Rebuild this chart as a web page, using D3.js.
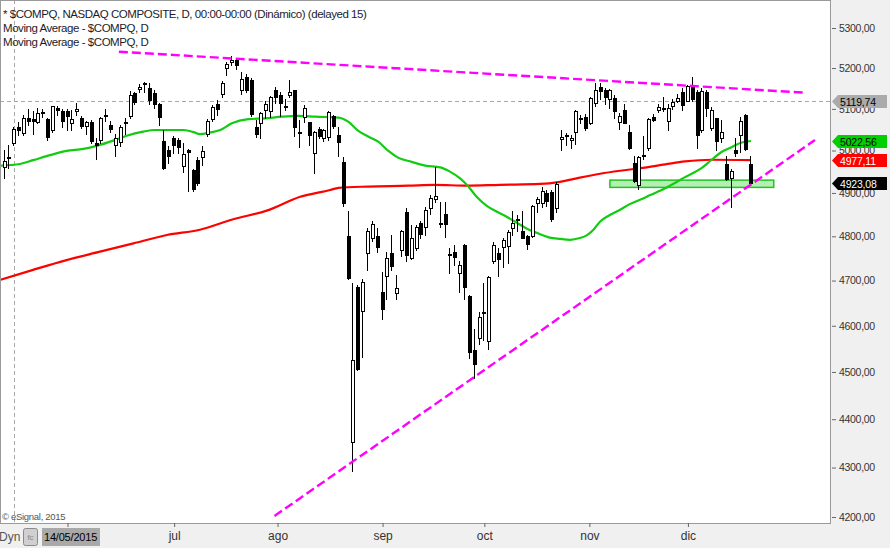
<!DOCTYPE html>
<html><head><meta charset="utf-8">
<script src="https://cdn.jsdelivr.net/npm/d3@7"></script>
<style>
html,body{margin:0;padding:0;background:#f0f0f0;overflow:hidden;}
svg{display:block;font-family:"Liberation Sans",Arial,sans-serif;}
</style></head><body>
<svg id="c" width="890" height="548"></svg>
<script>
// ---------- DATA ----------
const dates = [
"2015-05-12","2015-05-13","2015-05-14","2015-05-15","2015-05-18","2015-05-19","2015-05-20","2015-05-21","2015-05-22","2015-05-26","2015-05-27","2015-05-28","2015-05-29",
"2015-06-01","2015-06-02","2015-06-03","2015-06-04","2015-06-05","2015-06-08","2015-06-09","2015-06-10","2015-06-11","2015-06-12","2015-06-15","2015-06-16","2015-06-17","2015-06-18","2015-06-19","2015-06-22","2015-06-23","2015-06-24","2015-06-25","2015-06-26","2015-06-29","2015-06-30",
"2015-07-01","2015-07-02","2015-07-06","2015-07-07","2015-07-08","2015-07-09","2015-07-10","2015-07-13","2015-07-14","2015-07-15","2015-07-16","2015-07-17","2015-07-20","2015-07-21","2015-07-22","2015-07-23","2015-07-24","2015-07-27","2015-07-28","2015-07-29","2015-07-30","2015-07-31",
"2015-08-03","2015-08-04","2015-08-05","2015-08-06","2015-08-07","2015-08-10","2015-08-11","2015-08-12","2015-08-13","2015-08-14","2015-08-17","2015-08-18","2015-08-19","2015-08-20","2015-08-21","2015-08-24","2015-08-25","2015-08-26","2015-08-27","2015-08-28","2015-08-31",
"2015-09-01","2015-09-02","2015-09-03","2015-09-04","2015-09-08","2015-09-09","2015-09-10","2015-09-11","2015-09-14","2015-09-15","2015-09-16","2015-09-17","2015-09-18","2015-09-21","2015-09-22","2015-09-23","2015-09-24","2015-09-25","2015-09-28","2015-09-29","2015-09-30",
"2015-10-01","2015-10-02","2015-10-05","2015-10-06","2015-10-07","2015-10-08","2015-10-09","2015-10-12","2015-10-13","2015-10-14","2015-10-15","2015-10-16","2015-10-19","2015-10-20","2015-10-21","2015-10-22","2015-10-23","2015-10-26","2015-10-27","2015-10-28","2015-10-29","2015-10-30",
"2015-11-02","2015-11-03","2015-11-04","2015-11-05","2015-11-06","2015-11-09","2015-11-10","2015-11-11","2015-11-12","2015-11-13","2015-11-16","2015-11-17","2015-11-18","2015-11-19","2015-11-20","2015-11-23","2015-11-24","2015-11-25","2015-11-27","2015-11-30",
"2015-12-01","2015-12-02","2015-12-03","2015-12-04","2015-12-07","2015-12-08","2015-12-09","2015-12-10","2015-12-11","2015-12-14","2015-12-15","2015-12-16","2015-12-17","2015-12-18"];

const opens = [4962,4985,5018,5057,5041,5079,5075,5068,5093,5076,5050,5101,5096,
5094,5066,5096,5077,5058,5068,5018,5024,5086,5060,5013,5021,5068,5082,5138,5148,5162,5152,5138,5112,5023,5000,
5029,5025,4963,5000,4953,4977,4985,5040,5076,5112,5137,5199,5215,5220,5146,5178,5171,5055,5065,5098,5095,5145,
5134,5108,5133,5145,5044,5080,5068,4995,5052,5030,5033,5082,5036,4972,4800,4352,4686,4633,4761,4795,4800,
4674,4711,4761,4672,4769,4856,4750,4774,4831,4822,4865,4886,4830,4852,4760,4764,4718,4780,4665,4548,4574,
4630,4566,4743,4763,4776,4777,4819,4840,4812,4800,4801,4876,4877,4900,4903,4865,5027,5036,5025,5045,5077,5080,
5067,5115,5154,5145,5125,5127,5068,5098,5043,4970,4918,4990,5006,5080,5098,5100,5070,5108,5120,5140,
5120,5159,5142,5050,5140,5053,5077,5029,4968,4935,5000,5036,5085,4969];

const highs = [5000,5013,5057,5068,5085,5100,5096,5101,5100,5078,5108,5106,5100,
5100,5098,5114,5083,5070,5073,5030,5080,5100,5070,5040,5062,5079,5143,5142,5161,5165,5163,5145,5114,5050,5010,
5034,5029,5018,5003,4955,4985,5010,5075,5110,5122,5168,5215,5231,5225,5190,5185,5175,5073,5092,5118,5132,5154,
5140,5123,5170,5146,5073,5110,5068,5047,5056,5052,5095,5086,5057,4985,4857,4694,4690,4703,4820,4835,4818,
4720,4765,4802,4712,4814,4864,4825,4825,4834,4867,4895,4962,4878,4879,4773,4780,4745,4782,4668,4594,4630,
4694,4710,4787,4773,4795,4815,4857,4850,4857,4804,4873,4890,4915,4907,4908,4925,5048,5041,5036,5097,5085,5088,
5129,5164,5164,5151,5148,5134,5091,5111,5060,4988,4986,5035,5077,5088,5113,5128,5113,5124,5137,5150,
5157,5178,5145,5150,5146,5105,5079,5073,4988,4955,5030,5080,5087,4988];

const lows = [4935,4958,5013,5036,5036,5060,5040,5065,5080,5025,5045,5085,5055,
5050,5050,5085,5054,5040,5018,4980,5018,5070,5045,4987,5010,5039,5078,5112,5142,5140,5112,5103,5060,4955,4971,
4994,4994,4950,4905,4904,4918,4966,5035,5070,5085,5128,5182,5207,5198,5137,5140,5082,5033,5030,5079,5080,5114,
5083,5097,5129,5034,5008,5068,5014,4947,5030,5023,5025,5053,4986,4870,4703,4292,4504,4532,4724,4790,4765,
4615,4659,4724,4658,4755,4743,4748,4768,4797,4802,4852,4880,4821,4799,4717,4735,4675,4660,4530,4488,4560,
4570,4550,4740,4711,4730,4740,4803,4812,4795,4772,4798,4855,4868,4870,4836,4855,5000,5013,5005,5015,5066,5049,
5063,5106,5125,5112,5101,5077,5052,5065,5003,4926,4910,4980,5000,5070,5092,5095,5048,5100,5117,5098,
5119,5120,5005,5045,5083,5049,5000,5020,4930,4867,4987,4996,5000,4920];

const closes = [4976.2,4981.7,5050.8,5048.3,5078.4,5070.0,5071.7,5090.8,5089.4,5032.8,5106.6,5098.0,5070.0,
5082.9,5076.5,5099.2,5059.1,5068.5,5021.6,5013.9,5076.7,5082.5,5051.1,5030.0,5055.6,5064.9,5133.0,5117.0,5154.0,5160.1,5122.4,5112.2,5080.5,4958.5,4986.9,
5013.1,5009.2,4991.9,4997.5,4909.8,4922.4,4997.7,5071.5,5104.9,5098.9,5163.2,5210.1,5218.9,5208.1,5171.8,5146.4,5088.6,5039.8,5089.2,5111.7,5128.8,5128.3,
5115.4,5105.6,5139.9,5056.4,5043.5,5101.8,5036.8,5044.4,5033.6,5048.2,5091.7,5059.4,5019.1,4877.5,4706.0,4526.3,4506.5,4697.5,4812.7,4828.3,4776.5,
4636.1,4750.0,4733.5,4683.9,4811.9,4756.5,4796.3,4822.3,4805.8,4860.5,4889.2,4894.0,4827.2,4828.3,4756.7,4752.7,4734.5,4686.5,4544.0,4517.3,4620.2,
4627.1,4707.8,4781.3,4748.4,4791.2,4810.8,4830.5,4838.6,4796.6,4782.9,4870.1,4886.7,4905.5,4881.0,4840.1,4920.1,5031.9,5034.7,5030.2,5095.7,5074.3,5053.8,
5127.2,5145.1,5142.5,5127.7,5147.1,5095.3,5083.2,5067.0,5005.1,4927.9,4984.6,4986.0,5075.2,5073.6,5104.9,5102.5,5102.8,5116.1,5127.5,5108.7,
5156.3,5123.2,5037.5,5142.3,5101.8,5098.2,5022.9,5045.2,4933.5,4952.2,4995.1,5071.1,5002.6,4923.1];

// moving averages (bar position, value)
const greenMABars = [-1,3.2,5.9,9.4,12.8,16.3,19,22.8,25.2,28.6,31,36.9,39,40.3,42.4,44.5,46.9,50.3,53.7,57.2,60.6,64.1,68.9,70.9,73,75.1,77.1,79.2,81.2,84,86.8,89.9,91.9,94,95.7,97.4,99.5,101.5,103.6,105.7,107.7,109.8,112.5,114.6,116.7,118.7,120.1,121.5,122.9,124.9,127,129,131.1,133.2,136.3,140.4,143.8,145.9,148,150,152.1,154];
const greenMAVals = [4964,4968,4977,4989,4999,5004,5011,5025,5035,5045,5049,5049,5044,5039,5043,5049,5065,5075,5077,5081,5083,5081,5079,5069,5047,5033,5021,4999,4983,4973,4964,4960,4950,4934,4915,4891,4870,4857,4845,4831,4818,4808,4797,4794,4792,4796,4802,4815,4834,4849,4861,4874,4884,4895,4911,4937,4958,4978,4997,5008,5019,5022.56];
const redMABars = [-1,5.9,12.8,19.7,26.6,33.5,40.3,47.2,54.1,61,67.2,68.9,75.1,83.3,88.8,95.4,102.2,110.5,114.6,118.7,122.9,127,131.1,136.3,140.4,145.9,154];
const redMAVals = [4701,4724,4746,4765,4784,4803,4815,4839,4859,4891,4907,4912,4915,4917,4919,4917,4919,4921,4926,4936,4945,4952,4958,4967,4974,4978,4977.11];

// drawn annotations (bar position, price)
const upperTrendBars = [23.6, 164.7], upperTrendPrices = [5240.6, 5139.7];
const lowerTrendBars = [55.7, 167.2], lowerTrendPrices = [4202, 5025];
const zoneBars = [124.9, 158.7], zonePrices = [4913, 4930];

const yTicks = [4200,4300,4400,4500,4600,4700,4800,4900,5000,5100,5200,5300];
const monthStarts = ["2015-06-01","2015-07-01","2015-08-01","2015-09-01","2015-10-01","2015-11-01","2015-12-01"];
// the June label sits under the date box in the reference, so it is left blank
const monthLabels = ["","jul","ago","sep","oct","nov","dic"];
const crossBar = 2, crossPrice = 5119.74;
const tagValues = [5119.74, 5022.56, 4977.11, 4923.08];
const tagFills = ["#ababab","#00d000","#ff0000","#000000"];
const tagTextFills = ["#000","#000","#fff","#fff"];
const headerLines = ["* $COMPQ, NASDAQ COMPOSITE, D, 00:00-00:00 (Dinámico) (delayed 15)","Moving Average - $COMPQ, D","Moving Average - $COMPQ, D"];

// ---------- CHART ----------
const plotW = 830, plotH = 523;
const svg = d3.select("#c");
const x = d3.scaleLinear().domain([0, 154]).range([4.506, 4.506 + 154*4.847]);
const y = d3.scaleLog().domain([4200, 5300]).range([517, 28]);
const fmt = v => d3.format(".2f")(v).replace(".", ",");
const parse = d3.timeParse("%Y-%m-%d");
const dateObjs = dates.map(parse);

svg.append("rect").attr("width",890).attr("height",548).attr("fill","#f0f0f0");
svg.append("rect").attr("x",0).attr("y",0).attr("width",plotW).attr("height",plotH).attr("fill","#fff");
svg.append("defs").append("clipPath").attr("id","clip").append("rect").attr("x",1).attr("y",0).attr("width",plotW-1).attr("height",plotH);
const g = svg.append("g").attr("clip-path","url(#clip)");

// crosshair
g.append("line").attr("x1",Math.round(x(crossBar))+0.5).attr("x2",Math.round(x(crossBar))+0.5).attr("y1",0).attr("y2",plotH)
 .attr("stroke","#a8a8a8").attr("stroke-dasharray","4,3").attr("shape-rendering","crispEdges");
g.append("line").attr("x1",0).attr("x2",plotW).attr("y1",Math.round(y(crossPrice))+0.5).attr("y2",Math.round(y(crossPrice))+0.5)
 .attr("stroke","#a8a8a8").attr("stroke-dasharray","4,3").attr("shape-rendering","crispEdges");

// support zone
g.append("rect").attr("x",x(zoneBars[0])).attr("y",y(zonePrices[1]))
 .attr("width",x(zoneBars[1])-x(zoneBars[0])).attr("height",y(zonePrices[0])-y(zonePrices[1]))
 .attr("fill","#b6efb6").attr("stroke","#22c422").attr("stroke-width",1.5);

// moving averages
const maLine = d3.line().x(d=>x(d[0])).y(d=>y(d[1])).curve(d3.curveMonotoneX);
g.append("path").datum(redMABars.map((b,i)=>[b,redMAVals[i]])).attr("d",maLine)
 .attr("fill","none").attr("stroke","#ff0000").attr("stroke-width",2.2);
g.append("path").datum(greenMABars.map((b,i)=>[b,greenMAVals[i]])).attr("d",maLine)
 .attr("fill","none").attr("stroke","#11cc11").attr("stroke-width",2.2);

// candles
const bars = dates.map((d,i)=>({i,o:opens[i],h:Math.max(highs[i],opens[i],closes[i]),l:Math.min(lows[i],opens[i],closes[i]),c:closes[i]}));
const cg = g.append("g").attr("shape-rendering","crispEdges");
bars.forEach(b=>{
  const cx = Math.round(x(b.i));
  cg.append("line").attr("x1",cx-0.5).attr("x2",cx-0.5).attr("y1",Math.round(y(b.h))).attr("y2",Math.round(y(b.l))+1)
    .attr("stroke","#000").attr("stroke-width",1);
  let top = Math.round(y(Math.max(b.o,b.c))), bot = Math.round(y(Math.min(b.o,b.c)));
  if (bot - top < 1) bot = top + 1;
  if (b.c >= b.o) {
    cg.append("rect").attr("x",cx-1.5).attr("y",top+0.5).attr("width",3).attr("height",bot-top)
      .attr("fill","#fff").attr("stroke","#000").attr("stroke-width",1);
  } else {
    cg.append("rect").attr("x",cx-2).attr("y",top).attr("width",4).attr("height",bot-top+1).attr("fill","#000");
  }
});

// trend lines
const tl = d3.line().x(d=>x(d[0])).y(d=>y(d[1]));
[[upperTrendBars,upperTrendPrices],[lowerTrendBars,lowerTrendPrices]].forEach(([bs,ps])=>{
  g.append("path").datum(bs.map((b,i)=>[b,ps[i]])).attr("d",tl)
   .attr("fill","none").attr("stroke","#ff00ff").attr("stroke-width",2.4).attr("stroke-dasharray","9,4");
});

// header texts
headerLines.forEach((t,i)=>{
  svg.append("text").attr("x",3).attr("y",18+i*14).attr("font-size","11.5px").attr("letter-spacing","-0.45px")
    .attr("fill","#1c1c2c").text(t);
});
svg.append("text").attr("x",2).attr("y",520).attr("font-size","9.5px").attr("fill","#555").attr("letter-spacing","-0.3px").text("© eSignal, 2015");

// frame
svg.append("rect").attr("x",0.5).attr("y",0.5).attr("width",plotW-0.5).attr("height",plotH-0.5)
 .attr("fill","none").attr("stroke","#9a9a9a").attr("shape-rendering","crispEdges");

// right axis
const yAxis = d3.axisRight(y).tickValues(yTicks).tickFormat(fmt).tickSize(4).tickPadding(3);
const ya = svg.append("g").attr("transform",`translate(${plotW+2},0)`).call(yAxis);
ya.select(".domain").remove();
ya.selectAll(".tick line").attr("stroke","#666");
ya.selectAll(".tick text").attr("fill","#333").attr("font-size","10.5px").attr("letter-spacing","-0.3px")
  .attr("font-family","'Liberation Sans',Arial,sans-serif");

// value tags
tagValues.forEach((v,i)=>{
  const yc = Math.round(y(v))+0.5;
  svg.append("path").attr("d",`M832,${yc} L838,${yc-6.5} L887,${yc-6.5} L887,${yc+6.5} L838,${yc+6.5} Z`).attr("fill",tagFills[i]);
  svg.append("text").attr("x",840).attr("y",yc+4).attr("font-size","10.5px").attr("letter-spacing","-0.2px")
    .attr("fill",tagTextFills[i]).text(fmt(v));
});

// bottom axis (month starts placed by calendar position between bars)
function barPos(d){
  const t = +d; const n = dateObjs.findIndex(v=>+v>=t);
  if (+dateObjs[n] === t) return n;
  const p = n-1; return p + (t - dateObjs[p])/(dateObjs[n]-dateObjs[p]);
}
const monthPos = monthStarts.map(s=>barPos(parse(s)));
const xAxis = d3.axisBottom(x).tickValues(monthPos).tickFormat((d,i)=>monthLabels[i]).tickSize(4).tickPadding(4);
const xa = svg.append("g").attr("transform",`translate(0,${plotH})`).call(xAxis);
xa.select(".domain").remove();
xa.selectAll(".tick line").attr("stroke","#666");
xa.selectAll(".tick text").attr("fill","#333").attr("font-size","12px").attr("font-family","'Liberation Sans',Arial,sans-serif");

// bottom-left controls
svg.append("text").attr("x",-1).attr("y",541).attr("font-size","12px").attr("fill","#555").text("Dyn");
svg.append("rect").attr("x",23.5).attr("y",528.5).attr("width",14).attr("height",17).attr("rx",2)
 .attr("fill","#d0d0d0").attr("stroke","#8a8a8a");
svg.append("text").attr("x",30.5).attr("y",540).attr("text-anchor","middle").attr("font-size","8px").attr("fill","#888").text("fc");
svg.append("rect").attr("x",42).attr("y",528).attr("width",58).attr("height",18).attr("fill","#a9a9a9");
svg.append("text").attr("x",44).attr("y",541).attr("font-size","11px").attr("letter-spacing","-0.2px").attr("fill","#000").text("14/05/2015");
</script>
</body></html>
